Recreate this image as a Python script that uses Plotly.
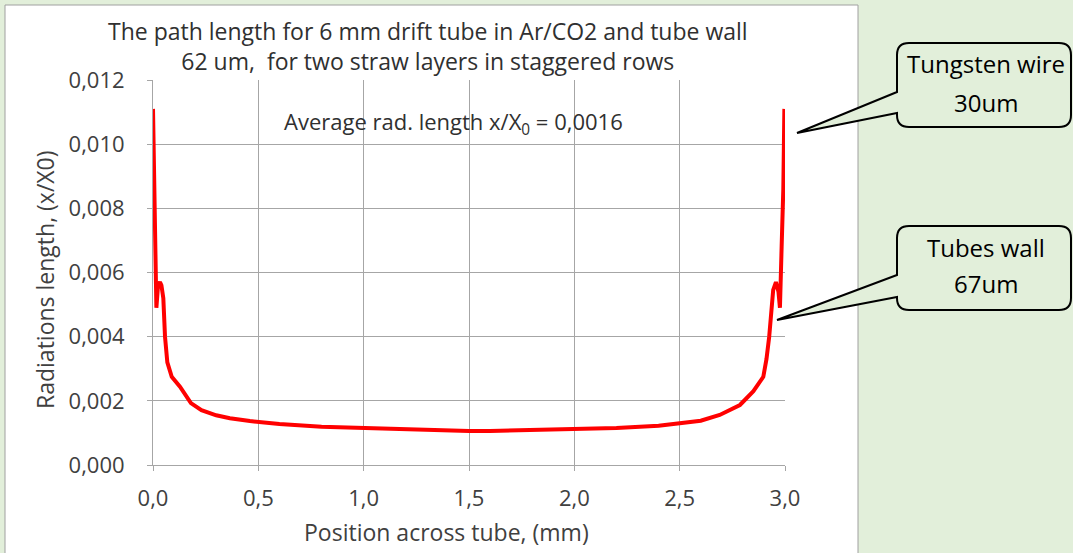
import plotly.graph_objects as go

# ---- data ----
position_mm = [0.0, 0.004, 0.008, 0.012, 0.016, 0.024, 0.033, 0.040, 0.049, 0.057,
               0.068, 0.089, 0.128, 0.18, 0.23, 0.30, 0.365, 0.46, 0.6, 0.8,
               1.0, 1.2, 1.4, 1.5,
               1.6, 1.8, 2.0, 2.2, 2.4, 2.5, 2.6, 2.69, 2.786, 2.85,
               2.897, 2.912, 2.925, 2.944, 2.957, 2.969, 2.976, 2.984, 2.992, 2.997]
rad_length = [0.0111, 0.0095, 0.0078, 0.0062, 0.0049, 0.0056, 0.0057, 0.0056, 0.0052, 0.0040,
              0.0032, 0.00275, 0.00244, 0.00193, 0.00171, 0.00155, 0.00146, 0.00137, 0.00128, 0.00119,
              0.00115, 0.00110, 0.00107, 0.00106,
              0.00106, 0.00108, 0.00111, 0.00115, 0.00122, 0.00129, 0.00138, 0.00156, 0.00187, 0.0023,
              0.00275, 0.0033, 0.0040, 0.00546, 0.0057, 0.0054, 0.0049, 0.0068, 0.0086, 0.0111]
x_ticks = [0.0, 0.5, 1.0, 1.5, 2.0, 2.5, 3.0]
y_ticks = [0.000, 0.002, 0.004, 0.006, 0.008, 0.010, 0.012]

FONT = "Open Sans, sans-serif"
GREEN = "#E2EFDA"
TXT = "#404040"

# plot area pixel geometry
L, R, T, B = 153, 785, 80, 465
def X(px):
    return (px - L) / (R - L)
def Y(py):
    return (B - py) / (B - T)

fig = go.Figure()
fig.add_trace(go.Scatter(x=position_mm, y=rad_length, mode="lines",
                         line=dict(color="#FF0000", width=4), showlegend=False,
                         hoverinfo="skip"))

shapes = []
# white chart area
shapes.append(dict(type="rect", xref="paper", yref="paper", layer="below",
                   x0=X(5), x1=X(858), y0=Y(560), y1=Y(5),
                   fillcolor="white", line=dict(color="#A0A0A0", width=1)))

def callout(x0, y0, x1, y1, ya, yb, tipx, tipy, r=12):
    def P(px, py):
        return f"{X(px):.5f},{Y(py):.5f}"
    path = (f"M {P(x0 + r, y0)} L {P(x1 - r, y0)} Q {P(x1, y0)} {P(x1, y0 + r)} "
            f"L {P(x1, y1 - r)} Q {P(x1, y1)} {P(x1 - r, y1)} "
            f"L {P(x0 + r, y1)} Q {P(x0, y1)} {P(x0, y1 - r)} "
            f"L {P(x0, yb)} L {P(tipx, tipy)} L {P(x0, ya)} "
            f"L {P(x0, y0 + r)} Q {P(x0, y0)} {P(x0 + r, y0)} Z")
    return dict(type="path", xref="paper", yref="paper", path=path, layer="above",
                fillcolor=GREEN, line=dict(color="black", width=2))

shapes.append(callout(897, 43, 1071, 127, 92, 113, 797, 133))
shapes.append(callout(897, 226, 1071, 310, 275, 297, 777, 320))

def ann(text, px, py, size, color, angle=0):
    return dict(text=text, xref="paper", yref="paper", x=X(px), y=Y(py),
                xanchor="center", yanchor="middle", showarrow=False, align="center",
                textangle=angle, font=dict(size=size, color=color, family=FONT))

annotations = [
    ann("The path length for 6 mm drift tube in Ar/CO2 and tube wall<br>62 um,  for two straw layers in staggered rows",
        428, 46, 23, "#303030"),
    ann("Average rad. length x/X<sub>0</sub> = 0,0016", 453, 123, 22, "#303030"),
    ann("Tungsten wire", 986, 63, 24, "black"),
    ann("30um", 986, 102, 24, "black"),
    ann("Tubes wall", 986, 247, 24, "black"),
    ann("67um", 986, 283, 24, "black"),
    ann("Position across tube, (mm)", 446, 532, 23, TXT),
    ann("Radiations length, (x/X0)", 45, 280, 23, TXT, -90),
]

fig.update_layout(
    width=1073, height=553,
    margin=dict(l=L, r=1073 - R, t=T, b=553 - B),
    paper_bgcolor=GREEN, plot_bgcolor="white",
    separators=", ",
    shapes=shapes, annotations=annotations,
    font=dict(family=FONT, size=21, color=TXT),
)
fig.update_xaxes(range=[0, 3], tickvals=x_ticks, tickformat=".1f",
                 showgrid=True, gridcolor="#A6A6A6", gridwidth=1,
                 showline=True, linecolor="#A6A6A6", ticks="outside", ticklen=5,
                 tickcolor="#A6A6A6", zeroline=False, ticklabelstandoff=9,
                 tickfont=dict(size=22, color=TXT))
fig.update_yaxes(range=[0, 0.012], tickvals=y_ticks, tickformat=".3f",
                 showgrid=True, gridcolor="#A6A6A6", gridwidth=1,
                 showline=True, linecolor="#A6A6A6", ticks="outside", ticklen=5,
                 tickcolor="#A6A6A6", zeroline=False, ticklabelstandoff=18,
                 tickfont=dict(size=22, color=TXT))

fig.write_html("out.html", config={"displayModeBar": False},
               post_script="document.body.style.margin='0';document.body.style.padding='0';document.body.style.overflow='hidden';")
